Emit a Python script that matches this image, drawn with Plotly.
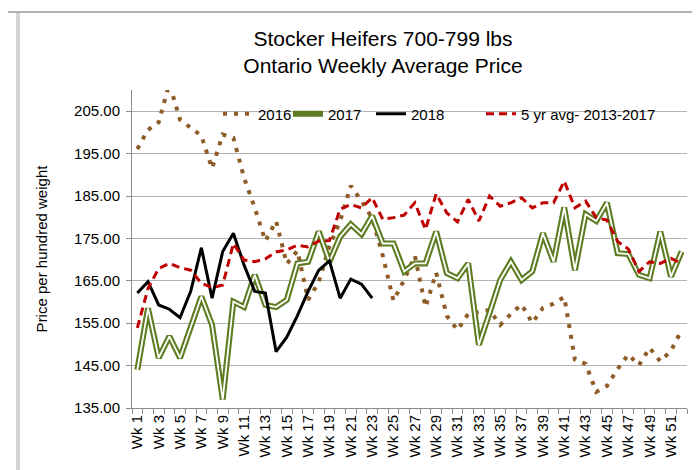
import plotly.graph_objects as go

weeks = list(range(1, 53))
week_labels = [f"Wk {w}" for w in weeks]

y2016 = [196.1, 200.6, 202.4, 211.5, 203.0, 201.2, 199.2, 191.5, 199.5, 198.7,
         189.3, 182.2, 174.4, 179.1, 169.0, 172.1, 160.5, 164.7, 173.2, 179.1,
         187.4, 183.8, 179.8, 170.9, 160.3, 165.2, 170.9, 158.8, 166.9, 156.7,
         153.4, 157.2, 157.7, 158.1, 154.6, 157.2, 159.4, 155.1, 158.6, 159.6,
         161.2, 146.4, 145.4, 138.8, 140.2, 144.2, 147.6, 145.1, 149.2, 146.0,
         148.5, 153.4]

y2017 = [144.0, 158.5, 146.8, 151.9, 146.8, 153.8, 161.3, 154.6, 137.0, 160.1,
         158.8, 166.4, 159.3, 158.8, 160.5, 169.1, 169.5, 176.6, 169.5, 175.4,
         178.3, 176.0, 180.3, 173.8, 173.8, 167.2, 169.1, 169.1, 176.6, 166.8,
         165.6, 169.1, 149.9, 157.4, 165.2, 169.5, 165.2, 167.2, 176.2, 169.5,
         182.3, 167.5, 180.7, 179.1, 183.4, 171.5, 171.3, 166.4, 165.6, 176.6,
         166.0, 171.9]

y2018 = [162.1, 164.8, 159.3, 158.3, 156.3, 162.5, 172.8, 160.9, 171.9, 176.2,
         168.7, 162.5, 162.1, 148.3, 151.7, 156.8, 162.5, 167.5, 169.7, 160.9,
         165.4, 164.2, 160.9]

y5yr = [153.9, 163.2, 167.9, 169.1, 168.1, 167.5, 164.4, 163.4, 164.0, 173.8,
        169.9, 169.5, 170.2, 171.8, 172.3, 173.4, 173.0, 174.4, 174.5, 181.9,
        183.0, 182.2, 184.6, 179.5, 179.9, 180.5, 183.4, 177.1, 185.5, 181.0,
        178.9, 184.2, 179.1, 185.0, 182.6, 183.4, 184.6, 182.2, 183.4, 183.4,
        188.5, 182.2, 183.8, 179.9, 179.3, 174.3, 172.5, 167.2, 169.5, 169.1,
        170.3, 169.1]

y_ticks = [135, 145, 155, 165, 175, 185, 195, 205]

series_names = ["2016", "2017", "2018", "5 yr avg- 2013-2017"]

FONT = "Liberation Sans, Arial, sans-serif"
BROWN = "#8E5C26"
GREEN = "#5E7D23"
RED = "#C00000"

fig = go.Figure()
fig.add_trace(go.Scatter(x=weeks, y=y2016, mode="lines", name=series_names[0],
                         legend="legend",
                         line=dict(color=BROWN, width=4, dash="4px,7px")))
fig.add_trace(go.Scatter(x=weeks, y=y2017, mode="lines", name=series_names[1],
                         legend="legend2",
                         line=dict(color=GREEN, width=6)))
fig.add_trace(go.Scatter(x=weeks, y=y2017, mode="lines", showlegend=False,
                         hoverinfo="skip", line=dict(color="white", width=1.8)))
fig.add_trace(go.Scatter(x=weeks[:len(y2018)], y=y2018, mode="lines", name=series_names[2],
                         legend="legend3",
                         line=dict(color="black", width=3)))
fig.add_trace(go.Scatter(x=weeks, y=y5yr, mode="lines", name=series_names[3],
                         legend="legend4",
                         line=dict(color=RED, width=3, dash="8px,5px")))

L, R, T, B = 124, 21, 82, 70
W, H = 700, 470
pw, ph = W - L - R, H - T - B


def px2x(px):
    return (px - L) / pw


def px2y(py):
    return (H - B - py) / ph


border = "#A8A8A8"
shapes = [
    dict(type="line", xref="paper", yref="paper", x0=px2x(0), x1=px2x(699),
         y0=px2y(4), y1=px2y(4), line=dict(color="#9A9A9A", width=1.5)),
    dict(type="line", xref="paper", yref="paper", x0=px2x(9), x1=px2x(9),
         y0=px2y(4), y1=px2y(470), line=dict(color=border, width=1)),
    dict(type="line", xref="paper", yref="paper", x0=px2x(11), x1=px2x(11),
         y0=px2y(4), y1=px2y(470), line=dict(color=border, width=1)),
    dict(type="line", xref="paper", yref="paper", x0=px2x(698), x1=px2x(698),
         y0=px2y(4), y1=px2y(470), line=dict(color=border, width=1)),
]


def leg(xpx):
    return dict(orientation="h", x=px2x(xpx), xanchor="left", y=px2y(106),
                yanchor="middle", font=dict(size=15, family=FONT, color="black"),
                bgcolor="rgba(0,0,0,0)", itemwidth=30)


fig.update_layout(
    width=W, height=H,
    margin=dict(l=L, r=R, t=T, b=B),
    paper_bgcolor="white", plot_bgcolor="white",
    font=dict(family=FONT, color="black"),
    title=dict(text="Stocker Heifers 700-799 lbs<br>Ontario Weekly Average Price",
               x=375 / W, xanchor="center", y=1 - 38 / H, yanchor="middle",
               font=dict(size=21, family=FONT, color="black")),
    showlegend=True,
    legend=leg(210), legend2=leg(280), legend3=leg(363), legend4=leg(473),
    shapes=shapes,
)

fig.update_xaxes(
    range=[0.5, 52.5], tickmode="array", tickvals=weeks[::2], ticktext=week_labels[::2],
    tickangle=-90, ticks="", showgrid=False, showline=True, linecolor="#8C8C8C",
    linewidth=1, zeroline=False, tickfont=dict(size=15, family=FONT, color="black"),
    minor=dict(tickmode="linear", tick0=0.5, dtick=1, ticks="outside", ticklen=5,
               tickcolor="#8C8C8C", showgrid=False),
)
fig.update_yaxes(
    range=[135, 210], tickmode="array", tickvals=y_ticks, tickformat=".2f",
    ticks="outside", ticklen=5, tickcolor="#8C8C8C", showgrid=True, gridcolor="#B3B3B3",
    gridwidth=1, showline=True, linecolor="#8C8C8C", linewidth=1, zeroline=False,
    ticklabelstandoff=3,
    tickfont=dict(size=15, family=FONT, color="black"),
    title=dict(text="Price per hundred weight", standoff=22,
               font=dict(size=15, family=FONT, color="black")),
)

fig.write_html("out.html")
